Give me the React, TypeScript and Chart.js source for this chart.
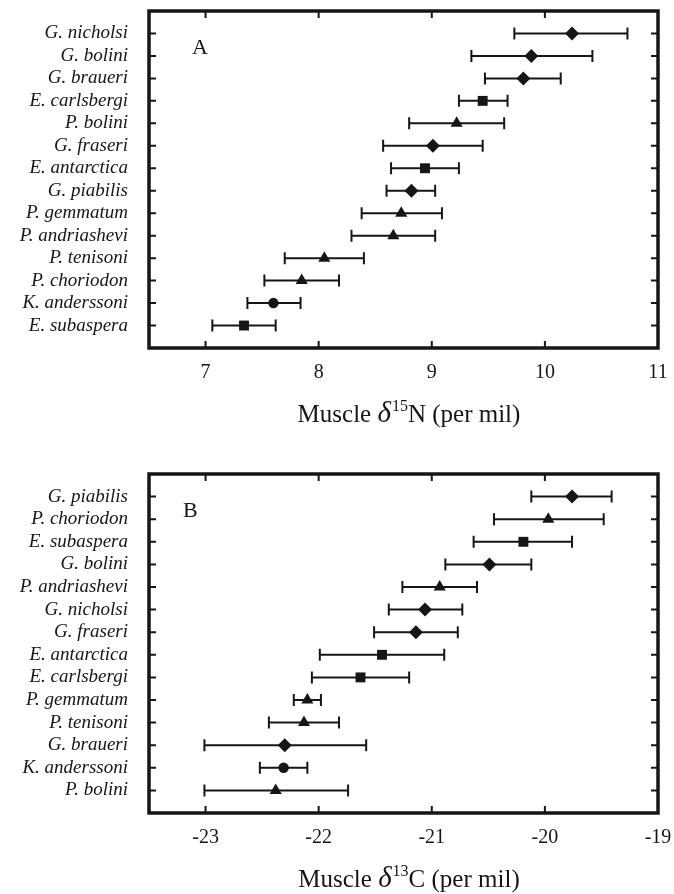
import React, { useEffect, useRef } from 'react';
import { Chart, registerables } from 'chart.js';

Chart.register(...registerables);

// ---------- Panel A: muscle δ15N ----------
const speciesA = [
  'G. nicholsi', 'G. bolini', 'G. braueri', 'E. carlsbergi', 'P. bolini', 'G. fraseri', 'E. antarctica',
  'G. piabilis', 'P. gemmatum', 'P. andriashevi', 'P. tenisoni', 'P. choriodon', 'K. anderssoni', 'E. subaspera',
];
const meanA = [10.24, 9.88, 9.81, 9.45, 9.22, 9.01, 8.94, 8.82, 8.73, 8.66, 8.05, 7.85, 7.6, 7.34];
const lowA = [9.73, 9.35, 9.47, 9.24, 8.8, 8.57, 8.64, 8.6, 8.38, 8.29, 7.7, 7.52, 7.37, 7.06];
const highA = [10.73, 10.42, 10.14, 9.67, 9.64, 9.45, 9.24, 9.03, 9.09, 9.03, 8.4, 8.18, 7.84, 7.62];
const xTicksA = [7, 8, 9, 10, 11];

// ---------- Panel B: muscle δ13C ----------
const speciesB = [
  'G. piabilis', 'P. choriodon', 'E. subaspera', 'G. bolini', 'P. andriashevi', 'G. nicholsi', 'G. fraseri',
  'E. antarctica', 'E. carlsbergi', 'P. gemmatum', 'P. tenisoni', 'G. braueri', 'K. anderssoni', 'P. bolini',
];
const meanB = [-19.76, -19.97, -20.19, -20.49, -20.93, -21.06, -21.14, -21.44, -21.63, -22.1, -22.13, -22.3, -22.31, -22.38];
const lowB = [-20.12, -20.45, -20.63, -20.88, -21.26, -21.38, -21.51, -21.99, -22.06, -22.22, -22.44, -23.01, -22.52, -23.01];
const highB = [-19.41, -19.48, -19.76, -20.12, -20.6, -20.73, -20.77, -20.89, -21.2, -21.98, -21.82, -21.58, -22.1, -21.74];
const xTicksB = [-23, -22, -21, -20, -19];

// marker shape by genus initial
const shapeByGenus: Record<string, string> = { G: 'rectRot', E: 'rect', P: 'triangle', K: 'circle' };
const radiusByGenus: Record<string, number> = { G: 7, E: 7, P: 7, K: 5.2 };

const SERIF = '"Liberation Serif", "Times New Roman", serif';
const INK = '#161616';

type PanelCfg = {
  labels: string[];
  mean: number[];
  low: number[];
  high: number[];
  xMin: number;
  xMax: number;
  xTicks: number[];
  letter: string;
  letterDx: number;
  isoMass: string;
  element: string;
  height: number;
  padTop: number;
  xAxisHeight: number;
};

function buildChart(canvas: HTMLCanvasElement, cfg: PanelCfg) {
  const n = cfg.labels.length;
  const pts = cfg.mean.map((v, i) => ({ x: v, y: i + 1 }));
  const styles = cfg.labels.map((l) => shapeByGenus[l[0]]);
  const radii = cfg.labels.map((l) => radiusByGenus[l[0]]);

  const errorBars = {
    id: 'errorBars',
    beforeDatasetsDraw(chart: any) {
      const { ctx, scales } = chart;
      const x = scales.x;
      const y = scales.y;
      ctx.save();
      ctx.strokeStyle = INK;
      ctx.lineWidth = 2;
      cfg.low.forEach((lo: number, i: number) => {
        const yy = y.getPixelForValue(i + 1);
        const x1 = x.getPixelForValue(lo);
        const x2 = x.getPixelForValue(cfg.high[i]);
        ctx.beginPath();
        ctx.moveTo(x1, yy);
        ctx.lineTo(x2, yy);
        ctx.moveTo(x1, yy - 6);
        ctx.lineTo(x1, yy + 6);
        ctx.moveTo(x2, yy - 6);
        ctx.lineTo(x2, yy + 6);
        ctx.stroke();
      });
      ctx.restore();
    },
  };

  const frame = {
    id: 'frame',
    afterDatasetsDraw(chart: any) {
      const { ctx, chartArea: a, scales } = chart;
      const x = scales.x;
      const y = scales.y;
      ctx.save();
      ctx.strokeStyle = INK;
      ctx.lineWidth = 2;
      ctx.beginPath();
      x.ticks.forEach((t: any) => {
        const px = x.getPixelForValue(t.value);
        ctx.moveTo(px, a.top);
        ctx.lineTo(px, a.top + 7);
        ctx.moveTo(px, a.bottom);
        ctx.lineTo(px, a.bottom - 7);
      });
      y.ticks.forEach((t: any) => {
        const py = y.getPixelForValue(t.value);
        ctx.moveTo(a.left, py);
        ctx.lineTo(a.left + 7, py);
        ctx.moveTo(a.right, py);
        ctx.lineTo(a.right - 7, py);
      });
      ctx.stroke();
      ctx.lineWidth = 3.5;
      ctx.strokeRect(a.left, a.top, a.right - a.left, a.bottom - a.top);

      // panel letter
      ctx.fillStyle = INK;
      ctx.textBaseline = 'alphabetic';
      ctx.textAlign = 'left';
      ctx.font = `22px ${SERIF}`;
      ctx.fillText(cfg.letter, a.left + cfg.letterDx, a.top + 43);

      // axis title: Muscle δ^15N (per mil)
      const partA = 'Muscle ';
      const partD = 'δ';
      const partSup = cfg.isoMass;
      const partE = `${cfg.element} (per mil)`;
      const fMain = `25px ${SERIF}`;
      const fDelta = `italic 29px ${SERIF}`;
      const fSup = `16px ${SERIF}`;
      ctx.font = fMain;
      const wA = ctx.measureText(partA).width;
      const wE = ctx.measureText(partE).width;
      ctx.font = fDelta;
      const wD = ctx.measureText(partD).width;
      ctx.font = fSup;
      const wS = ctx.measureText(partSup).width;
      const total = wA + wD + wS + wE;
      let cx = (a.left + a.right) / 2 + 5 - total / 2;
      const by = a.bottom + 74;
      ctx.font = fMain;
      ctx.fillText(partA, cx, by);
      cx += wA;
      ctx.font = fDelta;
      ctx.fillText(partD, cx, by);
      cx += wD + 1;
      ctx.font = fSup;
      ctx.fillText(partSup, cx, by - 11);
      cx += wS;
      ctx.font = fMain;
      ctx.fillText(partE, cx, by);
      ctx.restore();
    },
  };

  return new Chart(canvas, {
    type: 'scatter',
    data: {
      datasets: [
        {
          data: pts,
          pointStyle: styles as any,
          pointRadius: radii,
          pointHoverRadius: radii,
          backgroundColor: INK,
          borderColor: INK,
          borderWidth: 0,
          showLine: false,
        },
      ],
    },
    options: {
      animation: false,
      responsive: false,
      maintainAspectRatio: false,
      events: [],
      layout: { padding: { left: 0, right: 16, top: cfg.padTop, bottom: 0 } },
      plugins: { legend: { display: false }, tooltip: { enabled: false } },
      scales: {
        x: {
          type: 'linear',
          min: cfg.xMin,
          max: cfg.xMax,
          afterBuildTicks: (s: any) => {
            s.ticks = cfg.xTicks.map((v) => ({ value: v }));
          },
          afterFit: (s: any) => {
            s.height = cfg.xAxisHeight;
            s.paddingLeft = 0;
            s.paddingRight = 0;
          },
          grid: { display: false, drawTicks: false },
          border: { display: false },
          ticks: {
            color: INK,
            padding: 13,
            maxRotation: 0,
            autoSkip: false,
            font: { family: SERIF, size: 20 },
            callback: (v: any) => String(v),
          },
        },
        y: {
          type: 'linear',
          min: 0,
          max: n + 1,
          reverse: true,
          afterBuildTicks: (s: any) => {
            s.ticks = cfg.labels.map((_, i) => ({ value: i + 1 }));
          },
          afterFit: (s: any) => {
            s.width = 149;
            s.paddingTop = 0;
            s.paddingBottom = 0;
          },
          grid: { display: false, drawTicks: false },
          border: { display: false },
          ticks: {
            color: INK,
            padding: 21,
            autoSkip: false,
            font: { family: SERIF, size: 19, style: 'italic' },
            callback: (v: any) => cfg.labels[Math.round(v) - 1] ?? '',
          },
        },
      },
    },
    plugins: [errorBars, frame],
  } as any);
}

function Panel({ cfg, top }: { cfg: PanelCfg; top: number }) {
  const ref = useRef<HTMLCanvasElement | null>(null);
  useEffect(() => {
    if (!ref.current) return;
    const chart = buildChart(ref.current, cfg);
    return () => chart.destroy();
  }, [cfg]);
  return (
    <canvas
      ref={ref}
      width={674}
      height={cfg.height}
      style={{ position: 'absolute', left: 0, top, width: 674, height: cfg.height, display: 'block' }}
    />
  );
}

const cfgA: PanelCfg = {
  labels: speciesA,
  mean: meanA,
  low: lowA,
  high: highA,
  xMin: 6.5,
  xMax: 11,
  xTicks: xTicksA,
  letter: 'A',
  letterDx: 43,
  isoMass: '15',
  element: 'N',
  height: 440,
  padTop: 11,
  xAxisHeight: 92,
};

const cfgB: PanelCfg = {
  labels: speciesB,
  mean: meanB,
  low: lowB,
  high: highB,
  xMin: -23.5,
  xMax: -19,
  xTicks: xTicksB,
  letter: 'B',
  letterDx: 34,
  isoMass: '13',
  element: 'C',
  height: 454,
  padTop: 34,
  xAxisHeight: 81,
};

export default function App() {
  return (
    <div style={{ position: 'absolute', left: 0, top: 0, width: 674, height: 894, background: '#fff' }}>
      <Panel cfg={cfgA} top={0} />
      <Panel cfg={cfgB} top={440} />
    </div>
  );
}
